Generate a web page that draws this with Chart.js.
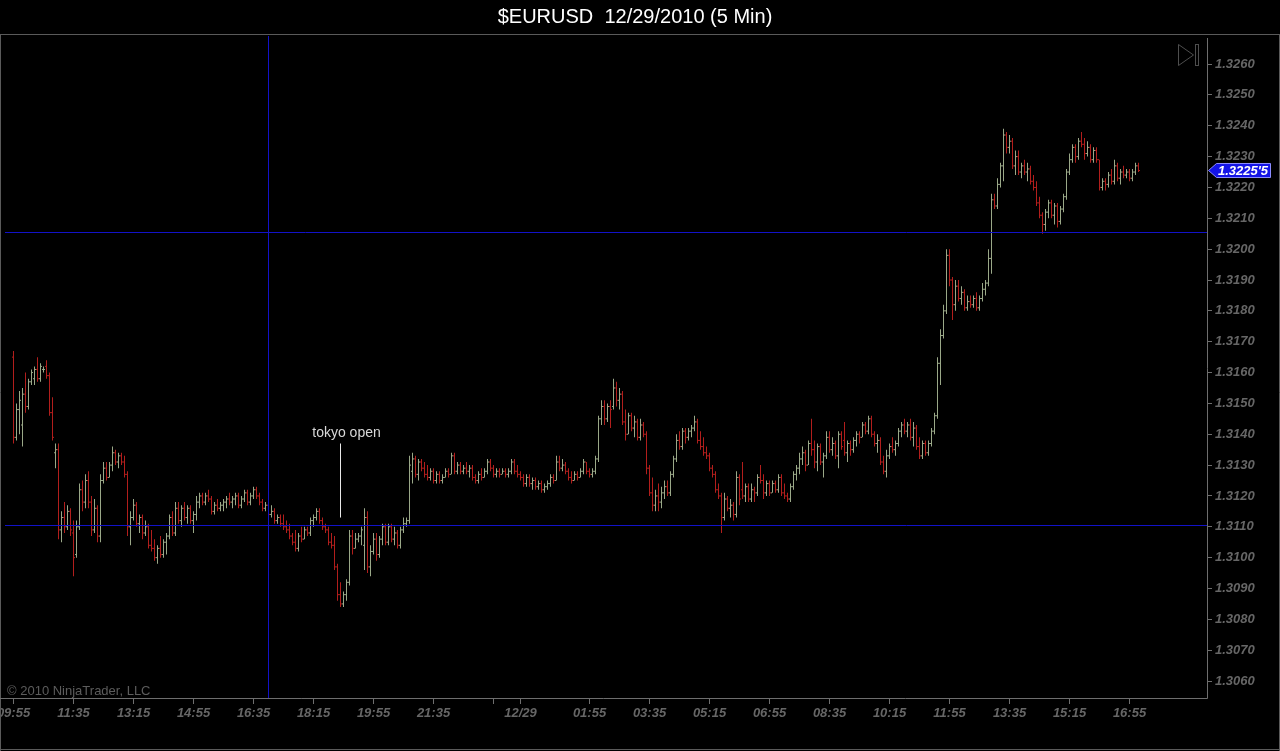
<!DOCTYPE html>
<html>
<head>
<meta charset="utf-8">
<title>$EURUSD 12/29/2010 (5 Min)</title>
<script src="https://cdn.jsdelivr.net/npm/chart.js@4.4.0/dist/chart.umd.min.js"></script>
<style>
  html, body { margin: 0; padding: 0; background: #000; overflow: hidden; }
  #wrap { width: 1280px; height: 751px; }
</style>
</head>
<body>
<div id="wrap"><canvas id="chart" width="1280" height="751"></canvas></div>
<script>
// 5 min bars, 12/28 09:55 -> 12/29 17:10, one entry per bar
const opens = [
  1.3165,1.3139,1.3148,1.3143,1.3153,1.3149,1.3157,1.3158,1.3161,1.3158,1.3161,1.3162,1.3159,1.3147,1.3134,1.3135,1.3109,1.3113,1.3110,1.3115,
  1.3108,1.3101,1.3110,1.3122,1.3118,1.3125,1.3118,1.3109,1.3116,1.3107,1.3125,1.3129,1.3126,1.3130,1.3134,1.3131,1.3133,1.3131,1.3127,1.3110,
  1.3113,1.3117,1.3111,1.3113,1.3108,1.3110,1.3104,1.3103,1.3100,1.3103,1.3101,1.3105,1.3107,1.3113,1.3108,1.3116,1.3112,1.3116,1.3113,1.3116,
  1.3112,1.3114,1.3118,1.3120,1.3118,1.3120,1.3119,1.3115,1.3117,1.3116,1.3117,1.3118,1.3119,1.3118,1.3119,1.3120,1.3117,1.3119,1.3121,1.3118,
  1.3120,1.3122,1.3120,1.3118,1.3116,1.3117,1.3114,1.3115,1.3112,1.3113,1.3111,1.3110,1.3109,1.3107,1.3105,1.3103,1.3107,1.3106,1.3109,1.3108,
  1.3112,1.3113,1.3115,1.3112,1.3110,1.3109,1.3105,1.3104,1.3097,1.3088,1.3085,1.3088,1.3092,1.3107,1.3103,1.3106,1.3107,1.3104,1.3113,1.3097,
  1.3102,1.3106,1.3101,1.3106,1.3110,1.3105,1.3110,1.3106,1.3108,1.3104,1.3109,1.3111,1.3112,1.3128,1.3132,1.3127,1.3131,1.3129,1.3127,1.3126,
  1.3128,1.3125,1.3127,1.3125,1.3126,1.3128,1.3127,1.3133,1.3128,1.3130,1.3128,1.3129,1.3128,1.3129,1.3126,1.3125,1.3127,1.3126,1.3128,1.3131,
  1.3129,1.3127,1.3128,1.3127,1.3128,1.3127,1.3128,1.3131,1.3128,1.3127,1.3126,1.3124,1.3126,1.3124,1.3125,1.3123,1.3124,1.3122,1.3123,1.3124,
  1.3126,1.3125,1.3131,1.3129,1.3130,1.3128,1.3126,1.3125,1.3127,1.3126,1.3128,1.3131,1.3128,1.3127,1.3128,1.3132,1.3145,1.3149,1.3145,1.3149,
  1.3149,1.3155,1.3151,1.3153,1.3144,1.3140,1.3146,1.3142,1.3144,1.3139,1.3143,1.3140,1.3129,1.3121,1.3117,1.3120,1.3118,1.3121,1.3123,1.3121,
  1.3127,1.3132,1.3138,1.3136,1.3141,1.3139,1.3141,1.3142,1.3144,1.3138,1.3136,1.3134,1.3133,1.3129,1.3127,1.3122,1.3120,1.3113,1.3119,1.3116,
  1.3117,1.3114,1.3126,1.3122,1.3120,1.3123,1.3119,1.3122,1.3121,1.3126,1.3125,1.3121,1.3124,1.3121,1.3124,1.3122,1.3126,1.3121,1.3120,1.3119,
  1.3123,1.3127,1.3129,1.3132,1.3134,1.3130,1.3137,1.3135,1.3131,1.3136,1.3131,1.3133,1.3139,1.3135,1.3137,1.3133,1.3140,1.3138,1.3134,1.3137,
  1.3135,1.3138,1.3140,1.3139,1.3143,1.3141,1.3145,1.3140,1.3137,1.3138,1.3131,1.3128,1.3133,1.3136,1.3135,1.3137,1.3141,1.3143,1.3141,1.3143,
  1.3139,1.3142,1.3136,1.3133,1.3137,1.3134,1.3137,1.3141,1.3146,1.3163,1.3172,1.3180,1.3198,1.3190,1.3182,1.3188,1.3184,1.3186,1.3181,1.3183,
  1.3182,1.3184,1.3181,1.3184,1.3187,1.3189,1.3197,1.3216,1.3214,1.3221,1.3227,1.3237,1.3233,1.3235,1.3227,1.3230,1.3225,1.3227,1.3225,1.3226,
  1.3222,1.3220,1.3215,1.3211,1.3208,1.3212,1.3215,1.3211,1.3214,1.3209,1.3213,1.3217,1.3225,1.3229,1.3233,1.3230,1.3235,1.3234,1.3231,1.3233,
  1.3229,1.3232,1.3229,1.3220,1.3222,1.3221,1.3224,1.3222,1.3227,1.3223,1.3225,1.3224,1.3225,1.3223,1.3225,1.3227
];
const highs = [
  1.3167,1.3150,1.3154,1.3155,1.3160,1.3158,1.3161,1.3162,1.3165,1.3163,1.3162,1.3164,1.3160,1.3152,1.3137,1.3137,1.3115,1.3118,1.3117,1.3116,
  1.3112,1.3112,1.3124,1.3125,1.3127,1.3128,1.3120,1.3119,1.3117,1.3127,1.3131,1.3131,1.3131,1.3136,1.3135,1.3134,1.3134,1.3133,1.3128,1.3115,
  1.3119,1.3118,1.3114,1.3114,1.3112,1.3111,1.3109,1.3106,1.3104,1.3107,1.3106,1.3108,1.3114,1.3115,1.3118,1.3118,1.3117,1.3118,1.3117,1.3117,
  1.3115,1.3120,1.3121,1.3121,1.3121,1.3122,1.3120,1.3118,1.3119,1.3118,1.3119,1.3120,1.3121,1.3120,1.3121,1.3121,1.3120,1.3122,1.3122,1.3121,
  1.3123,1.3123,1.3121,1.3119,1.3118,1.3118,1.3117,1.3116,1.3114,1.3114,1.3114,1.3112,1.3111,1.3108,1.3109,1.3108,1.3110,1.3110,1.3110,1.3113,
  1.3114,1.3116,1.3116,1.3113,1.3111,1.3110,1.3108,1.3107,1.3098,1.3092,1.3089,1.3093,1.3109,1.3109,1.3108,1.3108,1.3110,1.3116,1.3115,1.3104,
  1.3108,1.3108,1.3107,1.3111,1.3111,1.3111,1.3111,1.3110,1.3109,1.3110,1.3113,1.3113,1.3133,1.3134,1.3133,1.3132,1.3132,1.3131,1.3130,1.3129,
  1.3129,1.3128,1.3128,1.3127,1.3129,1.3129,1.3134,1.3134,1.3131,1.3131,1.3130,1.3131,1.3130,1.3130,1.3127,1.3128,1.3129,1.3129,1.3132,1.3132,
  1.3130,1.3129,1.3129,1.3129,1.3129,1.3129,1.3132,1.3132,1.3130,1.3128,1.3127,1.3127,1.3127,1.3126,1.3126,1.3125,1.3125,1.3124,1.3125,1.3127,
  1.3127,1.3133,1.3133,1.3132,1.3131,1.3129,1.3128,1.3128,1.3128,1.3129,1.3132,1.3131,1.3129,1.3129,1.3133,1.3146,1.3151,1.3151,1.3150,1.3151,
  1.3158,1.3157,1.3155,1.3154,1.3148,1.3147,1.3147,1.3146,1.3145,1.3145,1.3144,1.3141,1.3130,1.3126,1.3122,1.3124,1.3123,1.3125,1.3125,1.3128,
  1.3133,1.3140,1.3141,1.3142,1.3142,1.3142,1.3143,1.3146,1.3145,1.3141,1.3139,1.3136,1.3134,1.3130,1.3128,1.3124,1.3121,1.3121,1.3120,1.3119,
  1.3118,1.3128,1.3127,1.3131,1.3124,1.3124,1.3124,1.3123,1.3127,1.3130,1.3127,1.3125,1.3125,1.3125,1.3125,1.3127,1.3127,1.3124,1.3121,1.3124,
  1.3128,1.3130,1.3134,1.3136,1.3135,1.3138,1.3145,1.3138,1.3137,1.3137,1.3134,1.3141,1.3141,1.3139,1.3138,1.3141,1.3141,1.3144,1.3138,1.3138,
  1.3139,1.3141,1.3141,1.3144,1.3144,1.3146,1.3146,1.3141,1.3140,1.3139,1.3133,1.3135,1.3137,1.3139,1.3138,1.3142,1.3144,1.3145,1.3144,1.3145,
  1.3144,1.3143,1.3139,1.3138,1.3138,1.3138,1.3142,1.3147,1.3165,1.3174,1.3182,1.3200,1.3200,1.3191,1.3190,1.3190,1.3188,1.3187,1.3185,1.3185,
  1.3185,1.3186,1.3185,1.3189,1.3190,1.3200,1.3218,1.3218,1.3223,1.3228,1.3239,1.3238,1.3237,1.3236,1.3232,1.3232,1.3228,1.3229,1.3228,1.3227,
  1.3224,1.3222,1.3217,1.3212,1.3213,1.3216,1.3216,1.3215,1.3215,1.3214,1.3218,1.3226,1.3231,1.3234,1.3234,1.3236,1.3238,1.3236,1.3235,1.3234,
  1.3233,1.3233,1.3229,1.3223,1.3223,1.3225,1.3226,1.3229,1.3228,1.3226,1.3227,1.3226,1.3226,1.3226,1.3228,1.3228
];
const lows = [
  1.3137,1.3138,1.3140,1.3136,1.3147,1.3148,1.3156,1.3156,1.3157,1.3157,1.3160,1.3158,1.3146,1.3138,1.3129,1.3106,1.3105,1.3108,1.3109,1.3107,
  1.3094,1.3100,1.3109,1.3115,1.3116,1.3116,1.3107,1.3108,1.3105,1.3105,1.3124,1.3125,1.3126,1.3128,1.3130,1.3129,1.3130,1.3126,1.3107,1.3104,
  1.3112,1.3110,1.3108,1.3106,1.3107,1.3103,1.3102,1.3099,1.3098,1.3100,1.3100,1.3101,1.3106,1.3107,1.3107,1.3111,1.3110,1.3112,1.3111,1.3111,
  1.3108,1.3112,1.3116,1.3117,1.3117,1.3118,1.3114,1.3114,1.3115,1.3115,1.3115,1.3116,1.3117,1.3116,1.3117,1.3116,1.3116,1.3118,1.3117,1.3117,
  1.3119,1.3119,1.3117,1.3115,1.3115,1.3113,1.3113,1.3111,1.3111,1.3110,1.3109,1.3108,1.3106,1.3104,1.3102,1.3102,1.3105,1.3106,1.3107,1.3107,
  1.3110,1.3112,1.3111,1.3109,1.3108,1.3104,1.3103,1.3096,1.3086,1.3084,1.3084,1.3086,1.3091,1.3101,1.3103,1.3105,1.3104,1.3096,1.3095,1.3094,
  1.3101,1.3099,1.3100,1.3104,1.3104,1.3104,1.3105,1.3104,1.3103,1.3103,1.3108,1.3110,1.3111,1.3124,1.3126,1.3125,1.3128,1.3126,1.3125,1.3125,
  1.3124,1.3124,1.3124,1.3124,1.3126,1.3126,1.3127,1.3127,1.3127,1.3127,1.3127,1.3127,1.3126,1.3125,1.3124,1.3124,1.3125,1.3126,1.3127,1.3128,
  1.3126,1.3126,1.3126,1.3127,1.3126,1.3126,1.3127,1.3127,1.3126,1.3125,1.3123,1.3123,1.3123,1.3122,1.3122,1.3122,1.3121,1.3121,1.3122,1.3123,
  1.3124,1.3125,1.3128,1.3128,1.3127,1.3125,1.3124,1.3125,1.3125,1.3126,1.3127,1.3127,1.3126,1.3126,1.3127,1.3131,1.3143,1.3143,1.3144,1.3142,
  1.3148,1.3149,1.3148,1.3143,1.3138,1.3140,1.3141,1.3139,1.3138,1.3138,1.3139,1.3127,1.3120,1.3115,1.3115,1.3115,1.3116,1.3119,1.3120,1.3120,
  1.3126,1.3131,1.3135,1.3135,1.3137,1.3138,1.3139,1.3141,1.3137,1.3135,1.3133,1.3132,1.3128,1.3126,1.3121,1.3119,1.3108,1.3112,1.3115,1.3113,
  1.3112,1.3113,1.3117,1.3119,1.3118,1.3118,1.3118,1.3118,1.3120,1.3124,1.3119,1.3120,1.3120,1.3121,1.3121,1.3121,1.3120,1.3119,1.3118,1.3118,
  1.3122,1.3125,1.3127,1.3130,1.3128,1.3130,1.3133,1.3129,1.3128,1.3130,1.3126,1.3132,1.3134,1.3133,1.3132,1.3129,1.3135,1.3133,1.3131,1.3133,
  1.3134,1.3136,1.3137,1.3139,1.3140,1.3140,1.3139,1.3136,1.3134,1.3130,1.3127,1.3126,1.3132,1.3134,1.3133,1.3136,1.3139,1.3140,1.3139,1.3138,
  1.3136,1.3135,1.3132,1.3132,1.3133,1.3133,1.3136,1.3140,1.3145,1.3156,1.3171,1.3179,1.3188,1.3177,1.3180,1.3183,1.3182,1.3180,1.3180,1.3181,
  1.3181,1.3180,1.3180,1.3183,1.3185,1.3188,1.3192,1.3213,1.3213,1.3220,1.3222,1.3231,1.3231,1.3226,1.3224,1.3224,1.3223,1.3224,1.3222,1.3221,
  1.3219,1.3214,1.3210,1.3205,1.3206,1.3210,1.3210,1.3208,1.3207,1.3208,1.3212,1.3216,1.3224,1.3228,1.3228,1.3229,1.3233,1.3229,1.3230,1.3228,
  1.3228,1.3228,1.3219,1.3219,1.3219,1.3220,1.3221,1.3221,1.3222,1.3221,1.3223,1.3223,1.3222,1.3222,1.3224,1.3225
];
const closes = [
  1.3139,1.3148,1.3151,1.3153,1.3149,1.3157,1.3160,1.3161,1.3158,1.3162,1.3161,1.3159,1.3147,1.3139,1.3135,1.3109,1.3113,1.3110,1.3115,1.3109,
  1.3100,1.3110,1.3122,1.3118,1.3125,1.3118,1.3109,1.3116,1.3107,1.3125,1.3129,1.3126,1.3130,1.3134,1.3131,1.3133,1.3131,1.3127,1.3110,1.3113,
  1.3117,1.3111,1.3113,1.3108,1.3110,1.3104,1.3103,1.3100,1.3103,1.3101,1.3105,1.3107,1.3113,1.3108,1.3116,1.3112,1.3116,1.3113,1.3116,1.3112,
  1.3114,1.3118,1.3120,1.3118,1.3120,1.3119,1.3115,1.3117,1.3116,1.3117,1.3118,1.3119,1.3118,1.3119,1.3120,1.3117,1.3119,1.3121,1.3118,1.3120,
  1.3122,1.3120,1.3118,1.3116,1.3117,1.3114,1.3115,1.3112,1.3113,1.3111,1.3110,1.3109,1.3107,1.3105,1.3103,1.3107,1.3106,1.3109,1.3108,1.3112,
  1.3113,1.3115,1.3112,1.3110,1.3109,1.3105,1.3104,1.3097,1.3088,1.3085,1.3088,1.3092,1.3107,1.3103,1.3106,1.3107,1.3109,1.3113,1.3097,1.3102,
  1.3106,1.3101,1.3106,1.3110,1.3105,1.3110,1.3106,1.3108,1.3104,1.3109,1.3111,1.3112,1.3130,1.3132,1.3127,1.3131,1.3129,1.3127,1.3126,1.3128,
  1.3125,1.3127,1.3125,1.3126,1.3128,1.3127,1.3133,1.3128,1.3130,1.3128,1.3129,1.3128,1.3129,1.3126,1.3125,1.3127,1.3126,1.3128,1.3131,1.3129,
  1.3127,1.3128,1.3127,1.3128,1.3127,1.3128,1.3131,1.3128,1.3127,1.3126,1.3124,1.3126,1.3124,1.3125,1.3123,1.3124,1.3122,1.3123,1.3124,1.3126,
  1.3125,1.3131,1.3129,1.3130,1.3128,1.3126,1.3125,1.3127,1.3126,1.3128,1.3131,1.3128,1.3127,1.3128,1.3132,1.3145,1.3149,1.3145,1.3149,1.3148,
  1.3155,1.3151,1.3153,1.3144,1.3140,1.3146,1.3142,1.3144,1.3139,1.3143,1.3140,1.3129,1.3121,1.3117,1.3120,1.3118,1.3121,1.3123,1.3121,1.3127,
  1.3132,1.3138,1.3136,1.3141,1.3139,1.3141,1.3142,1.3144,1.3138,1.3136,1.3134,1.3133,1.3129,1.3127,1.3122,1.3120,1.3113,1.3119,1.3116,1.3117,
  1.3114,1.3126,1.3119,1.3120,1.3123,1.3119,1.3122,1.3121,1.3126,1.3125,1.3121,1.3124,1.3121,1.3124,1.3122,1.3126,1.3121,1.3120,1.3119,1.3123,
  1.3127,1.3129,1.3132,1.3134,1.3130,1.3137,1.3135,1.3131,1.3136,1.3131,1.3133,1.3139,1.3135,1.3137,1.3133,1.3140,1.3136,1.3134,1.3137,1.3135,
  1.3138,1.3140,1.3139,1.3143,1.3141,1.3145,1.3140,1.3137,1.3138,1.3131,1.3128,1.3133,1.3136,1.3135,1.3137,1.3141,1.3143,1.3141,1.3143,1.3139,
  1.3142,1.3136,1.3133,1.3137,1.3134,1.3137,1.3141,1.3146,1.3163,1.3172,1.3180,1.3198,1.3190,1.3182,1.3188,1.3184,1.3186,1.3181,1.3183,1.3182,
  1.3184,1.3181,1.3184,1.3187,1.3189,1.3197,1.3216,1.3214,1.3221,1.3227,1.3237,1.3233,1.3235,1.3227,1.3230,1.3225,1.3227,1.3225,1.3226,1.3222,
  1.3220,1.3215,1.3211,1.3208,1.3212,1.3215,1.3211,1.3214,1.3209,1.3213,1.3217,1.3225,1.3229,1.3233,1.3230,1.3235,1.3234,1.3231,1.3233,1.3229,
  1.3232,1.3229,1.3220,1.3222,1.3221,1.3224,1.3222,1.3227,1.3223,1.3225,1.3224,1.3225,1.3223,1.3225,1.3227,1.32255
];

// time axis: tick position (bar number) and its label
const tickBars = [0, 20, 40, 60, 80, 100, 120, 140, 160, 169, 192, 212, 232, 252, 272, 292, 312, 332, 352, 372];
const tickLabels = ['09:55', '11:35', '13:15', '14:55', '16:35', '18:15', '19:55', '21:35', '', '12/29',
                    '01:55', '03:35', '05:15', '06:55', '08:35', '10:15', '11:55', '13:35', '15:15', '16:55'];
// price axis
const priceTicks = [1.3060, 1.3070, 1.3080, 1.3090, 1.3100, 1.3110, 1.3120, 1.3130, 1.3140, 1.3150, 1.3160,
                    1.3170, 1.3180, 1.3190, 1.3200, 1.3210, 1.3220, 1.3230, 1.3240, 1.3250, 1.3260];

// drawn objects
const hLines = [1.32055, 1.31105];
const vLines = [85];
const tokyoBar = 109;
const tokyoTop = 1.3137;
const tokyoBottom = 1.3113;

const upColor = '#9aa888';
const downColor = '#b21e1c';
const axisColor = '#6e6e6e';
const labelFont = { family: 'Arial, "Liberation Sans", sans-serif', size: 13, style: 'italic', weight: 'bold' };

let barColors = [];
let rangeData = [];
let openData = [];
let closeData = [];
for (let i = 0; i < opens.length; i++) {
    barColors.push(closes[i] >= opens[i] ? upColor : downColor);
    rangeData.push({ x: i, y: [lows[i], highs[i]] });
    openData.push({ x: i - 1 / 3, y: opens[i] });
    closeData.push({ x: i + 1 / 3, y: closes[i] });
}

const decor = {
    id: 'decor',
    beforeDraw(chart) {
        const ctx = chart.ctx;
        ctx.save();
        ctx.fillStyle = '#000';
        ctx.fillRect(0, 0, chart.width, chart.height);
        ctx.restore();
    },
    afterDatasetsDraw(chart) {
        const ctx = chart.ctx;
        const x = chart.scales.x, y = chart.scales.y, a = chart.chartArea;
        ctx.save();
        ctx.strokeStyle = '#1212c8';
        ctx.lineWidth = 1;
        for (let p of hLines) {
            const py = Math.round(y.getPixelForValue(p)) + 0.5;
            ctx.beginPath();
            ctx.moveTo(a.left, py);
            ctx.lineTo(a.right, py);
            ctx.stroke();
        }
        for (let b of vLines) {
            const px = Math.floor(x.getPixelForValue(b)) + 0.5;
            ctx.beginPath();
            ctx.moveTo(px, a.top);
            ctx.lineTo(px, a.bottom);
            ctx.stroke();
        }
        // tokyo open marker
        const tx = Math.floor(x.getPixelForValue(tokyoBar)) + 0.5;
        ctx.strokeStyle = '#e8e8e8';
        ctx.beginPath();
        ctx.moveTo(tx, y.getPixelForValue(tokyoTop));
        ctx.lineTo(tx, y.getPixelForValue(tokyoBottom));
        ctx.stroke();
        ctx.fillStyle = '#d8d8d8';
        ctx.font = '14px Arial, "Liberation Sans", sans-serif';
        ctx.textAlign = 'center';
        ctx.textBaseline = 'middle';
        ctx.fillText('tokyo open', tx + 6, y.getPixelForValue(tokyoTop) - 10);
        ctx.restore();
    },
    afterDraw(chart) {
        const ctx = chart.ctx;
        const a = chart.chartArea, y = chart.scales.y;
        const W = chart.width, H = chart.height;
        ctx.save();
        // frame
        ctx.strokeStyle = '#5a5a5a';
        ctx.lineWidth = 1;
        ctx.beginPath();
        ctx.moveTo(0, 34.5); ctx.lineTo(W, 34.5);
        ctx.moveTo(0.5, 34.5); ctx.lineTo(0.5, H);
        ctx.moveTo(W - 0.5, 34.5); ctx.lineTo(W - 0.5, H);
        ctx.moveTo(0, H - 1.5); ctx.lineTo(W, H - 1.5);
        ctx.stroke();
        // axis lines
        ctx.strokeStyle = axisColor;
        ctx.beginPath();
        ctx.moveTo(0, a.bottom + 0.5); ctx.lineTo(a.right + 0.5, a.bottom + 0.5);
        ctx.lineTo(a.right + 0.5, a.top + 2);
        ctx.stroke();
        // title
        ctx.fillStyle = '#ffffff';
        ctx.font = '20px Arial, "Liberation Sans", sans-serif';
        ctx.textAlign = 'center';
        ctx.textBaseline = 'middle';
        ctx.fillText('$EURUSD  12/29/2010 (5 Min)', 635, 17);
        // copyright
        ctx.fillStyle = '#5c5c5c';
        ctx.font = '13px Arial, "Liberation Sans", sans-serif';
        ctx.textAlign = 'left';
        ctx.fillText('\u00a9 2010 NinjaTrader, LLC', 7, a.bottom - 7);
        // play icon
        ctx.strokeStyle = '#4e4e4e';
        ctx.beginPath();
        ctx.moveTo(1178.5, 44.5); ctx.lineTo(1178.5, 65.5); ctx.lineTo(1193.5, 55); ctx.closePath();
        ctx.stroke();
        ctx.strokeRect(1195.5, 44.5, 3, 21);
        // last price marker
        const last = closes[closes.length - 1];
        const py = y.getPixelForValue(last);
        const txt = last.toFixed(5).slice(0, 6) + "'" + last.toFixed(5).slice(6);
        ctx.fillStyle = '#1414e6';
        ctx.strokeStyle = '#8c8cff';
        ctx.beginPath();
        ctx.moveTo(1208.5, py);
        ctx.lineTo(1216.5, py - 7);
        ctx.lineTo(1270.5, py - 7);
        ctx.lineTo(1270.5, py + 7);
        ctx.lineTo(1216.5, py + 7);
        ctx.closePath();
        ctx.fill();
        ctx.stroke();
        ctx.fillStyle = '#ffffff';
        ctx.font = 'italic bold 13px Arial, "Liberation Sans", sans-serif';
        ctx.textAlign = 'left';
        ctx.fillText(txt, 1218, py + 0.5);
        ctx.restore();
    }
};

const ctx = document.getElementById('chart');

new Chart(ctx, {
    type: 'bar',
    data: {
        datasets: [{
            label: 'range',
            data: rangeData,
            backgroundColor: barColors,
            borderWidth: 0,
            barThickness: 1,
            inflateAmount: 0,
            order: 2
        }, {
            type: 'scatter',
            label: 'open',
            data: openData,
            pointStyle: 'line',
            pointRadius: 0.5,
            pointHoverRadius: 0.5,
            pointBorderWidth: 1,
            pointBorderColor: barColors,
            order: 1
        }, {
            type: 'scatter',
            label: 'close',
            data: closeData,
            pointStyle: 'line',
            pointRadius: 0.5,
            pointHoverRadius: 0.5,
            pointBorderWidth: 1,
            pointBorderColor: barColors,
            order: 0
        }]
    },
    options: {
        responsive: false,
        devicePixelRatio: 1,
        animation: false,
        events: [],
        layout: { padding: { top: 36, left: 5, right: 0, bottom: 0 } },
        plugins: { legend: { display: false }, tooltip: { enabled: false }, title: { display: false } },
        scales: {
            x: {
                type: 'linear',
                offset: false,
                min: -17 / 6,
                max: 397 + 5 / 6,
                afterFit(s) { s.height = 53; s.paddingLeft = 0; s.paddingRight = 0; },
                afterBuildTicks(s) { s.ticks = tickBars.map(v => ({ value: v })); },
                border: { display: false },
                grid: { drawOnChartArea: false, offset: false, tickLength: 6, color: axisColor },
                ticks: {
                    autoSkip: false, maxRotation: 0, minRotation: 0, padding: 2,
                    color: '#666666', font: labelFont,
                    callback: (v, i) => tickLabels[i]
                }
            },
            y: {
                position: 'right',
                min: 1.30545,
                max: 1.32691,
                afterFit(s) { s.width = 73; s.paddingTop = 0; s.paddingBottom = 0; },
                afterBuildTicks(s) { s.ticks = priceTicks.map(v => ({ value: v })); },
                border: { display: false },
                grid: { drawOnChartArea: false, tickLength: 5, color: axisColor },
                ticks: {
                    padding: 3, color: '#666666', font: labelFont,
                    callback: v => v.toFixed(4)
                }
            }
        }
    },
    plugins: [decor]
});
</script>
</body>
</html>
